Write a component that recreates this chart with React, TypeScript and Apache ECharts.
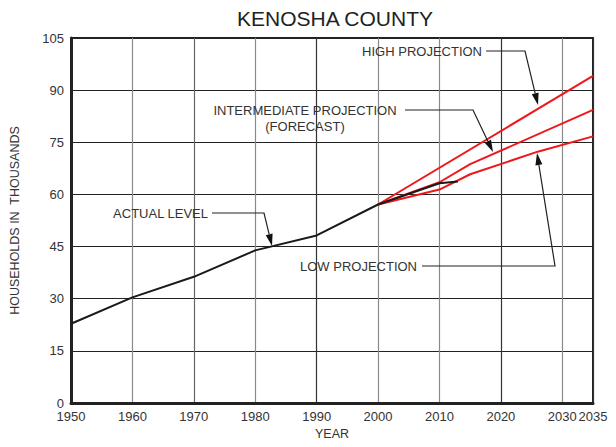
import React, { useEffect, useRef } from "react";
import * as echarts from "echarts";

const actualLevel: [number, number][] = [
  [1950, 22.8], [1960, 30.4], [1970, 36.3], [1980, 43.9], [1990, 48.2], [2000, 57.1], [2010, 63.2], [2013, 63.7],
];
const highProjection: [number, number][] = [[2000, 57.1], [2035, 94.1]];
const intermediateProjection: [number, number][] = [[2000, 57.1], [2010, 63.5], [2015, 68.7], [2035, 84.3]];
const lowProjection: [number, number][] = [[2000, 57.1], [2010, 61.4], [2015, 65.8], [2026, 72.3], [2035, 76.7]];

const FONT = "'Liberation Sans', Arial, sans-serif";
const RED = "#f0161c";

function arrow(pts: number[][]) {
  const [tx, ty] = pts[pts.length - 1];
  const [px, py] = pts[pts.length - 2];
  const dx = tx - px, dy = ty - py;
  const len = Math.hypot(dx, dy);
  const ux = dx / len, uy = dy / len;
  const L = 12, W = 3.5;
  const bx = tx - ux * L, by = ty - uy * L;
  const linePts = pts.slice(0, -1).concat([[bx, by]]);
  return [
    { type: "polyline", shape: { points: linePts }, style: { stroke: "#222", lineWidth: 1.2, fill: null }, z: 100 },
    {
      type: "polygon",
      shape: { points: [[tx, ty], [bx - uy * W, by + ux * W], [bx + uy * W, by - ux * W]] },
      style: { fill: "#111" },
      z: 100,
    },
  ];
}

function label(text: string, x: number, y: number, align: string) {
  return {
    type: "text",
    x, y, z: 100,
    style: { text, fill: "#333", font: `13px ${FONT}`, textAlign: align, textVerticalAlign: "middle" },
  };
}

export default function App() {
  const ref = useRef<HTMLDivElement>(null);
  useEffect(() => {
    const chart = echarts.init(ref.current!, null, { renderer: "svg" });
    const vColors = ["#333", "#8a8a8a", "#666", "#8a8a8a", "#333", "#8a8a8a", "#8a8a8a", "#333", "#8a8a8a", "#333"];
    chart.setOption({
      animation: false,
      grid: { left: 68, right: 23, top: 38, bottom: 44, show: true, borderColor: "#222", borderWidth: 2, containLabel: false },
      graphic: [
        {
          type: "text", x: 335, y: 18, z: 100,
          style: { text: "KENOSHA COUNTY", fill: "#222", font: `21px ${FONT}`, textAlign: "center", textVerticalAlign: "middle" },
        },
        label("HIGH PROJECTION", 482, 51, "right"),
        ...arrow([[486, 51], [525, 51], [538, 105]]),
        label("INTERMEDIATE PROJECTION", 305, 110, "center"),
        label("(FORECAST)", 305, 126, "center"),
        ...arrow([[405, 110], [473, 110], [493, 152]]),
        label("ACTUAL LEVEL", 208, 213, "right"),
        ...arrow([[212, 213], [264, 213], [272, 246]]),
        label("LOW PROJECTION", 417, 266, "right"),
        ...arrow([[422, 266], [555, 266], [537, 153]]),
      ],
      xAxis: {
        type: "value", min: 1950, max: 2035, interval: 10,
        name: "YEAR", nameLocation: "middle", nameGap: 23,
        nameTextStyle: { fontFamily: FONT, fontSize: 12.5, color: "#333" },
        axisLine: { show: true, lineStyle: { color: "#222", width: 3 } },
        axisTick: { show: false },
        axisLabel: { fontFamily: FONT, fontSize: 13, color: "#333", margin: 7, formatter: (v: number) => String(v) },
        splitLine: { show: true, lineStyle: { color: vColors, width: 1.2 } },
      },
      yAxis: {
        type: "value", min: 0, max: 105, interval: 15,
        name: "HOUSEHOLDS IN  THOUSANDS", nameLocation: "middle", nameGap: 50,
        nameTextStyle: { fontFamily: FONT, fontSize: 12.5, color: "#333" },
        axisLine: { show: true, lineStyle: { color: "#222", width: 3 } },
        axisTick: { show: false },
        axisLabel: { fontFamily: FONT, fontSize: 13, color: "#333", margin: 7 },
        splitLine: { show: true, lineStyle: { color: "#222", width: 1.2 } },
      },
      series: [
        { name: "High", type: "line", data: highProjection, showSymbol: false, lineStyle: { color: RED, width: 2 }, z: 2 },
        { name: "Intermediate", type: "line", data: intermediateProjection, showSymbol: false, lineStyle: { color: RED, width: 2 }, z: 2 },
        { name: "Low", type: "line", data: lowProjection, showSymbol: false, lineStyle: { color: RED, width: 2 }, z: 2 },
        { name: "Actual", type: "line", data: actualLevel, showSymbol: false, lineStyle: { color: "#1a1a1a", width: 2 }, z: 3 },
      ],
    });
    return () => chart.dispose();
  }, []);
  return <div ref={ref} style={{ position: "absolute", left: 0, top: 0, width: 616, height: 447 }} />;
}
